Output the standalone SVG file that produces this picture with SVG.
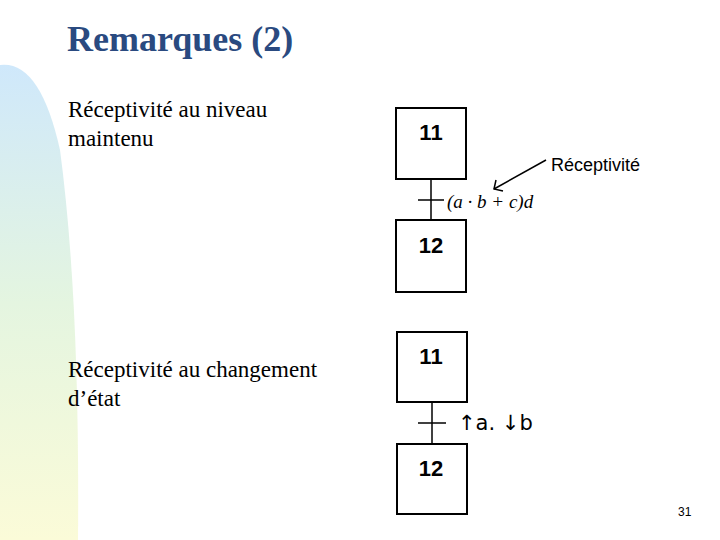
<svg xmlns="http://www.w3.org/2000/svg" width="720" height="540" viewBox="0 0 720 540">
<defs>
<linearGradient id="bg" x1="0" y1="0" x2="0" y2="1">
<stop offset="0" stop-color="#cfe8fb"/><stop offset="0.5" stop-color="#e4f5e0"/><stop offset="1" stop-color="#fbfbd8"/>
</linearGradient>
</defs>
<style>
.box{fill:#fff;stroke:#000;stroke-width:2}
.num{font-family:"Liberation Sans",Arial,sans-serif;font-weight:bold;font-size:22px}
.ser{font-family:"Liberation Serif","Times New Roman",serif;font-size:23px}
.ln{stroke:#000;stroke-width:1.5;fill:none}
</style>
<rect width="720" height="540" fill="#fff"/>
<path d="M0 65 Q40 60 60 150 Q80 300 78 540 L0 540 Z" fill="url(#bg)"/>
<text x="67" y="51" font-family="Liberation Serif,serif" font-size="36" font-weight="bold" fill="#2a4a80">Remarques (2)</text>
<text class="ser" x="68" y="117">Réceptivité au niveau</text>
<text class="ser" x="68" y="146">maintenu</text>
<text class="ser" x="68" y="377">Réceptivité au changement</text>
<text class="ser" x="68" y="406">d’état</text>
<g id="connectors">
<line class="ln" x1="431" y1="179" x2="431" y2="220"/>
<line class="ln" x1="418" y1="200" x2="444" y2="200" stroke="#666"/>
<line class="ln" x1="432" y1="402" x2="432" y2="444"/>
<line class="ln" x1="418" y1="423" x2="446" y2="423"/>
<line class="ln" x1="546" y1="160" x2="494" y2="189" stroke-width="1.2"/>
<path class="ln" d="M496 180 L494 189 L503 191" stroke-width="1.2"/>
</g>
<g id="n11a"><rect class="box" x="396" y="108" width="70" height="71"/><text class="num" x="431" y="140" text-anchor="middle">11</text></g>
<g id="n12a"><rect class="box" x="396" y="220" width="70" height="72"/><text class="num" x="431" y="253" text-anchor="middle">12</text></g>
<g id="n11b"><rect class="box" x="397" y="332" width="70" height="70"/><text class="num" x="431" y="364" text-anchor="middle">11</text></g>
<g id="n12b"><rect class="box" x="397" y="444" width="70" height="70"/><text class="num" x="431" y="476" text-anchor="middle">12</text></g>
<text x="551" y="171" font-family="Liberation Sans,sans-serif" font-size="18">Réceptivité</text>
<text x="447" y="208" font-family="Liberation Serif,serif" font-size="19" font-style="italic">(a · b + c)d</text>
<text x="458" y="430" font-family="DejaVu Sans,sans-serif" font-size="21">↑a. ↓b</text>
<text x="678" y="516" font-family="Liberation Sans,sans-serif" font-size="12">31</text>
</svg>
